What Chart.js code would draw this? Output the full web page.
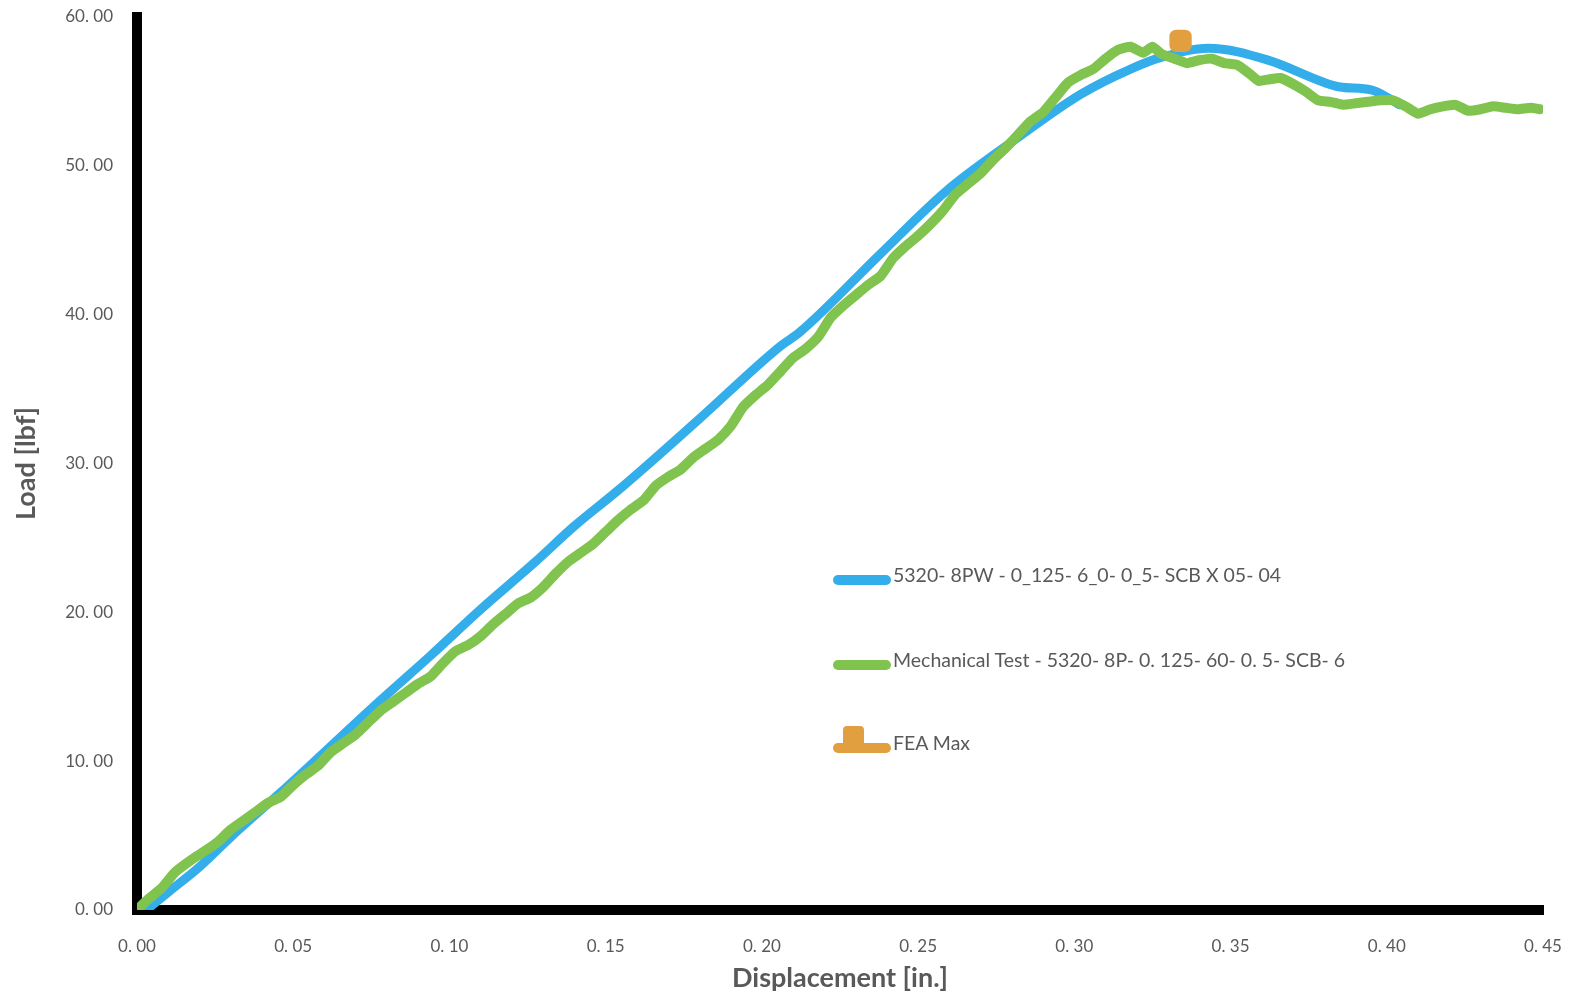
<!DOCTYPE html>
<html>
<head>
<meta charset="utf-8">
<script src="https://cdn.jsdelivr.net/npm/chart.js@4"></script>
<style>
  html, body { margin: 0; padding: 0; background: #fff; }
  #wrap { position: relative; width: 1572px; height: 1000px; }
  #legend { position: absolute; left: 0; top: 0; font-family: Lato, "Open Sans", sans-serif; font-size: 19.5px; color: #595959; }
  .item { position: absolute; left: 833px; height: 24px; white-space: nowrap; }
  .swatch { position: absolute; left: 0; width: 58px; height: 10px; border-radius: 5px; }
  .label { position: absolute; left: 60px; top: -11px; line-height: 22px; }
  .marker { position: absolute; left: 10px; top: -17px; width: 21px; height: 21px; border-radius: 4px; }
</style>
</head>
<body>
<div id="wrap">
  <canvas id="loadChart" width="1572" height="1000"></canvas>
  <div id="legend"></div>
</div>
<script>
  // FEA curve
  const femX = [0.003, 0.010, 0.020, 0.030, 0.046, 0.062, 0.078, 0.094, 0.110, 0.127, 0.140, 0.154,
    0.180, 0.206, 0.212, 0.238, 0.259, 0.280, 0.302, 0.318, 0.328, 0.343, 0.362, 0.380, 0.385,
    0.395, 0.401, 0.404];
  const femY = [0.0, 1.2, 2.9, 4.9, 7.9, 11.0, 14.1, 17.1, 20.2, 23.3, 25.8, 28.2,
    33.0, 37.9, 38.8, 44.1, 48.3, 51.6, 54.8, 56.5, 57.3, 57.9, 57.1, 55.6, 55.3,
    55.1, 54.5, 54.1];

  // mechanical test curve
  const testX = [0.000, 0.004, 0.008, 0.012, 0.015, 0.019, 0.022, 0.026, 0.030, 0.034, 0.038, 0.042,
    0.046, 0.050, 0.054, 0.058, 0.062, 0.066, 0.070, 0.074, 0.078, 0.082, 0.086, 0.090, 0.094,
    0.098, 0.102, 0.106, 0.110, 0.114, 0.118, 0.122, 0.126, 0.130, 0.134, 0.138, 0.142, 0.146,
    0.150, 0.154, 0.158, 0.162, 0.166, 0.170, 0.174, 0.178, 0.182, 0.186, 0.190, 0.194, 0.198,
    0.202, 0.206, 0.210, 0.214, 0.218, 0.222, 0.226, 0.230, 0.234, 0.238, 0.242, 0.246, 0.250,
    0.254, 0.258, 0.262, 0.266, 0.270, 0.274, 0.278, 0.282, 0.286, 0.290, 0.294, 0.298, 0.302,
    0.306, 0.310, 0.314, 0.318, 0.322, 0.325, 0.328, 0.332, 0.336, 0.340, 0.344, 0.348, 0.352,
    0.356, 0.359, 0.362, 0.366, 0.370, 0.374, 0.378, 0.382, 0.386, 0.390, 0.394, 0.398, 0.402,
    0.406, 0.410, 0.414, 0.418, 0.422, 0.426, 0.430, 0.434, 0.438, 0.442, 0.446, 0.449];
  const testY = [0.0, 0.8, 1.5, 2.5, 3.0, 3.6, 4.0, 4.6, 5.4, 6.0, 6.6, 7.2,
    7.6, 8.4, 9.1, 9.7, 10.6, 11.2, 11.8, 12.6, 13.4, 14.0, 14.6, 15.2, 15.7,
    16.6, 17.4, 17.8, 18.4, 19.2, 19.9, 20.6, 21.0, 21.7, 22.6, 23.4, 24.0, 24.6,
    25.4, 26.2, 26.9, 27.5, 28.5, 29.1, 29.6, 30.4, 31.0, 31.6, 32.5, 33.8, 34.6,
    35.3, 36.2, 37.1, 37.7, 38.5, 39.8, 40.6, 41.3, 42.0, 42.6, 43.8, 44.6, 45.3,
    46.1, 47.0, 48.1, 48.8, 49.5, 50.4, 51.2, 52.1, 53.0, 53.6, 54.6, 55.6, 56.1,
    56.5, 57.2, 57.8, 58.0, 57.6, 58.0, 57.5, 57.2, 56.9, 57.1, 57.2, 56.9, 56.8,
    56.2, 55.7, 55.8, 55.9, 55.5, 55.0, 54.4, 54.3, 54.1, 54.2, 54.3, 54.4, 54.4,
    54.0, 53.5, 53.8, 54.0, 54.1, 53.7, 53.8, 54.0, 53.9, 53.8, 53.9, 53.8];

  // FEA max point
  const feaX = [0.334];
  const feaY = [58.4];

  const xTickLabels = ['0. 00', '0. 05', '0. 10', '0. 15', '0. 20', '0. 25', '0. 30', '0. 35', '0. 40', '0. 45'];
  const yTickLabels = ['0. 00', '10. 00', '20. 00', '30. 00', '40. 00', '50. 00', '60. 00'];

  const seriesNames = [
    '5320- 8PW - 0_125- 6_0- 0_5- SCB X 05- 04',
    'Mechanical Test - 5320- 8P- 0. 125- 60- 0. 5- SCB- 6',
    'FEA Max'
  ];
  const colors = ['#33aeea', '#80c44f', '#e29f40'];

  function toPoints(xs, ys) {
    return xs.map((x, i) => ({ x: x, y: ys[i] }));
  }

  function buildLegend() {
    const tops = [580, 665, 748];
    const box = document.getElementById('legend');
    seriesNames.forEach((name, i) => {
      const item = document.createElement('div');
      item.className = 'item';
      item.style.top = (tops[i] - 5) + 'px';
      let html = '<div class="swatch" style="background:' + colors[i] + '"></div>';
      if (i === 2) html += '<div class="marker" style="background:' + colors[i] + '"></div>';
      html += '<div class="label">' + name + '</div>';
      item.innerHTML = html;
      box.appendChild(item);
    });
  }

  const tickFont = { family: 'Lato, "Open Sans", sans-serif', size: 17 };
  const titleFont = { family: 'Lato, "Open Sans", sans-serif', size: 27, weight: 'bold' };

  new Chart(document.getElementById('loadChart').getContext('2d'), {
    type: 'scatter',
    data: {
      datasets: [
        {
          label: seriesNames[2],
          data: toPoints(feaX, feaY),
          pointStyle: 'rectRounded',
          pointRadius: 13,
          backgroundColor: colors[2],
          borderColor: colors[2],
          borderWidth: 0,
          order: 0
        },
        {
          label: seriesNames[1],
          data: toPoints(testX, testY),
          showLine: true,
          borderColor: colors[1],
          borderWidth: 10,
          borderCapStyle: 'round',
          borderJoinStyle: 'round',
          pointRadius: 0,
          tension: 0.15,
          order: 1
        },
        {
          label: seriesNames[0],
          data: toPoints(femX, femY),
          showLine: true,
          borderColor: colors[0],
          borderWidth: 9,
          borderCapStyle: 'round',
          borderJoinStyle: 'round',
          pointRadius: 0,
          cubicInterpolationMode: 'monotone',
          order: 2
        }
      ]
    },
    options: {
      responsive: false,
      animation: false,
      layout: { padding: { top: 17, right: 29, left: 0, bottom: 0 } },
      plugins: {
        legend: { display: false },
        tooltip: { enabled: false }
      },
      scales: {
        x: {
          type: 'linear',
          min: 0,
          max: 0.45,
          afterFit: scale => {
            scale.height = 90;
            scale.paddingLeft = 0;
            scale.paddingRight = 0;
          },
          grid: { display: false, drawTicks: false },
          border: { display: true, color: '#000', width: 10 },
          ticks: {
            stepSize: 0.05,
            padding: 26,
            color: '#595959',
            font: tickFont,
            maxRotation: 0,
            callback: (v, i) => xTickLabels[i]
          },
          title: {
            display: true,
            text: 'Displacement [in.]',
            color: '#595959',
            font: titleFont,
            padding: { top: 0, bottom: 6 }
          }
        },
        y: {
          type: 'linear',
          min: 0,
          max: 60,
          afterFit: scale => {
            scale.width = 137;
            scale.paddingTop = 0;
            scale.paddingBottom = 0;
          },
          grid: { display: false, drawTicks: false },
          border: { display: true, color: '#000', width: 10 },
          ticks: {
            stepSize: 10,
            padding: 24,
            color: '#595959',
            font: tickFont,
            callback: (v, i) => yTickLabels[i]
          },
          title: {
            display: true,
            text: 'Load [lbf]',
            color: '#595959',
            font: titleFont,
            padding: { top: 10, bottom: 0 }
          }
        }
      }
    }
  });

  buildLegend();
</script>
</body>
</html>
